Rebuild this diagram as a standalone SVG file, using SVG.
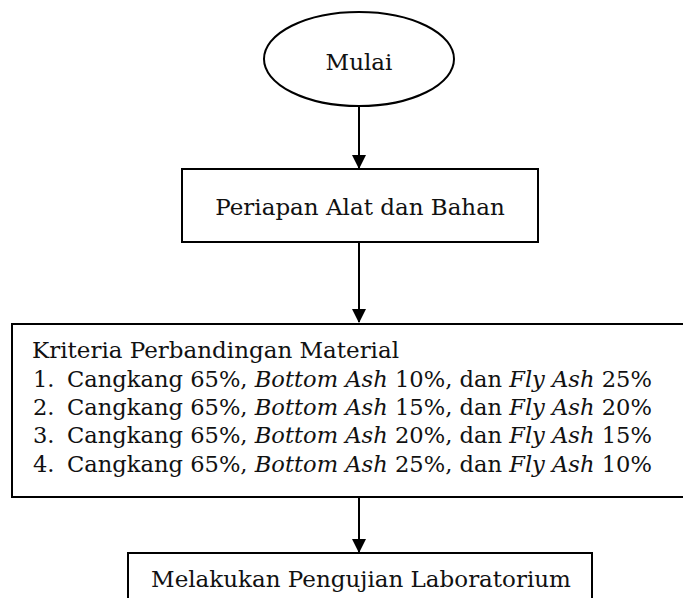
<svg xmlns="http://www.w3.org/2000/svg" width="683" height="598" viewBox="0 0 683 598">
<style>
.shape{fill:#fff;stroke:#000;stroke-width:2}
.conn{stroke:#000;stroke-width:2;fill:none}
.t1{font-family:"DejaVu Serif","Liberation Serif",serif;font-size:23px;fill:#111}
.ln{font-size:22.6px}
.it{font-style:italic}
</style>
<defs>
<marker id="arr" markerWidth="14" markerHeight="15" refX="13" refY="7" orient="auto" markerUnits="userSpaceOnUse" viewBox="0 0 14 14">
<path d="M0,0 L14,7 L0,14 Z" fill="#000"/>
</marker>
</defs>
<rect width="683" height="598" fill="#fff"/>
<g id="connectors">
<line class="conn" x1="359" y1="106" x2="359" y2="168" marker-end="url(#arr)"/>
<line class="conn" x1="359" y1="242" x2="359" y2="322" marker-end="url(#arr)"/>
<line class="conn" x1="359" y1="497" x2="359" y2="552" marker-end="url(#arr)"/>
</g>
<g id="mulai">
<ellipse class="shape" cx="359" cy="59" rx="95" ry="47"/>
<text class="t1" x="359" y="70" text-anchor="middle">Mulai</text>
</g>
<g id="persiapan">
<rect class="shape" x="182" y="169" width="356" height="73"/>
<text class="t1" x="360" y="215" text-anchor="middle">Periapan Alat dan Bahan</text>
</g>
<g id="kriteria">
<rect class="shape" x="12" y="324" width="700" height="173"/>
<text class="t1" x="32" y="358">Kriteria Perbandingan Material</text>
<text class="t1 ln" x="33" y="387">1.</text>
<text class="t1 ln" x="67" y="387">Cangkang 65%, <tspan class="it">Bottom Ash</tspan> 10%, dan <tspan class="it">Fly Ash</tspan> 25%</text>
<text class="t1 ln" x="33" y="415">2.</text>
<text class="t1 ln" x="67" y="415">Cangkang 65%, <tspan class="it">Bottom Ash</tspan> 15%, dan <tspan class="it">Fly Ash</tspan> 20%</text>
<text class="t1 ln" x="33" y="443">3.</text>
<text class="t1 ln" x="67" y="443">Cangkang 65%, <tspan class="it">Bottom Ash</tspan> 20%, dan <tspan class="it">Fly Ash</tspan> 15%</text>
<text class="t1 ln" x="33" y="472">4.</text>
<text class="t1 ln" x="67" y="472">Cangkang 65%, <tspan class="it">Bottom Ash</tspan> 25%, dan <tspan class="it">Fly Ash</tspan> 10%</text>
</g>
<g id="pengujian">
<rect class="shape" x="128" y="553" width="464" height="60"/>
<text class="t1" x="361" y="587" text-anchor="middle">Melakukan Pengujian Laboratorium</text>
</g>
</svg>
